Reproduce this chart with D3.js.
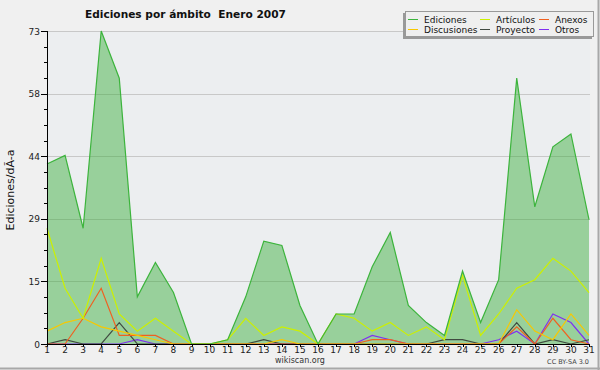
<!DOCTYPE html>
<html>
<head>
<meta charset="utf-8">
<script src="https://cdn.jsdelivr.net/npm/d3@7"></script>
<style>
  body { margin: 0; background: #f0f0f0; }
  svg { display: block; font-family: "DejaVu Sans", sans-serif; }
</style>
</head>
<body>
<svg id="chart" width="600" height="370"></svg>
<script>
// datos de Enero 2007
var dias = [1,2,3,4,5,6,7,8,9,10,11,12,13,14,15,16,17,18,19,20,21,22,23,24,25,26,27,28,29,30,31];
var ediciones   = [42,44,27,73,62,11,19,12,0,0,1,11,24,23,9,0,7,7,18,26,9,5,2,17,5,15,62,32,46,49,29];
var articulos   = [27,13,6,20,7,3,6,3,0,0,1,6,2,4,3,0,7,6,3,5,2,4,1,16,2,7,13,15,20,17,12];
var anexos      = [0,0,6,13,2,2,2,0,0,0,0,0,0,0,0,0,0,0,1,1,0,0,0,0,0,0,4,0,6,1,0];
var discusiones = [3,5,6,4,3,2,1,0,0,0,0,0,0,1,0,0,0,0,0,0,0,0,0,0,0,0,8,3,1,7,2];
var proyecto    = [0,1,0,0,5,0,0,0,0,0,0,0,1,0,0,0,0,0,0,0,0,0,1,1,0,0,5,0,1,0,1];
var otros       = [0,0,0,0,0,1,0,0,0,0,0,0,0,0,0,0,0,0,2,1,0,0,0,0,0,1,3,0,7,5,0];
var yMax = 73;

var svg = d3.select("#chart");
var pLeft = 47, pRight = 590, pTop = 31, pBottom = 344;

var x = d3.scaleLinear().domain([1, 31]).range([pLeft, 589]);
var y = d3.scaleLinear().domain([0, yMax]).range([pBottom, pTop]);

// fondo
svg.append("rect").attr("width", 600).attr("height", 370).attr("fill", "#f0f0f0");
svg.append("line").attr("x1", 598.5).attr("x2", 598.5).attr("y1", 0).attr("y2", 370)
    .attr("stroke", "#a8a8a8").attr("stroke-width", 2);
svg.append("line").attr("x1", 0).attr("x2", 600).attr("y1", 368.5).attr("y2", 368.5)
    .attr("stroke", "#a8a8a8").attr("stroke-width", 2);
svg.append("rect").attr("x", pLeft).attr("y", pTop)
    .attr("width", pRight - pLeft).attr("height", pBottom - pTop)
    .attr("fill", "#eceef0");

var minor = d3.range(0, 21).map(function (i) { return yMax * i / 20; });
var major = minor.filter(function (d, i) { return i % 4 === 0; });

// rejilla
svg.append("g").selectAll("line")
    .data(major.slice(1))
    .enter().append("line")
    .attr("x1", pLeft).attr("x2", pRight)
    .attr("y1", function (d) { return Math.round(y(d)) + 0.5; })
    .attr("y2", function (d) { return Math.round(y(d)) + 0.5; })
    .attr("stroke", "#c8c8c8");

// series
var series = [
    {name: "Ediciones", values: ediciones, color: "#3cb43c"},
    {name: "Artículos", values: articulos, color: "#ccf000"},
    {name: "Anexos", values: anexos, color: "#f06020"},
    {name: "Discusiones", values: discusiones, color: "#f8c800"},
    {name: "Proyecto", values: proyecto, color: "#404a40"},
    {name: "Otros", values: otros, color: "#8030f0"}
];

var area = d3.area()
    .x(function (d, i) { return x(dias[i]); })
    .y0(pBottom)
    .y1(function (d) { return y(d); });

var line = d3.line()
    .x(function (d, i) { return x(dias[i]); })
    .y(function (d) { return y(d); });

svg.append("path").attr("d", area(ediciones))
    .attr("fill", "#33aa33").attr("fill-opacity", 0.45);

var drawOrder = [5, 4, 2, 3, 1, 0];
drawOrder.forEach(function (k) {
    svg.append("path").attr("d", line(series[k].values))
        .attr("fill", "none").attr("stroke", series[k].color).attr("stroke-width", 1.2);
});

// eje y
var yAxis = svg.append("g");
yAxis.append("line").attr("x1", pLeft + 0.5).attr("x2", pLeft + 0.5)
    .attr("y1", pTop).attr("y2", pBottom).attr("stroke", "#000");
yAxis.selectAll("line.t").data(minor).enter().append("line")
    .attr("class", "t")
    .attr("x1", function (d, i) { return i % 4 === 0 ? pLeft - 6 : pLeft - 3; })
    .attr("x2", pLeft)
    .attr("y1", function (d) { return Math.round(y(d)) + 0.5; })
    .attr("y2", function (d) { return Math.round(y(d)) + 0.5; })
    .attr("stroke", "#000");
yAxis.selectAll("text").data(major).enter().append("text")
    .attr("x", pLeft - 7).attr("y", function (d) { return y(d) + 3.5; })
    .attr("text-anchor", "end").attr("font-size", 9).attr("fill", "#222")
    .text(function (d) { return Math.round(d); });

// eje x
var xAxis = svg.append("g");
xAxis.append("line").attr("x1", pLeft).attr("x2", pRight)
    .attr("y1", pBottom + 0.5).attr("y2", pBottom + 0.5).attr("stroke", "#000");
xAxis.selectAll("line.t").data(dias).enter().append("line")
    .attr("class", "t")
    .attr("x1", function (d) { return Math.round(x(d)) + 0.5; })
    .attr("x2", function (d) { return Math.round(x(d)) + 0.5; })
    .attr("y1", pBottom).attr("y2", pBottom + 3).attr("stroke", "#000");
xAxis.selectAll("text").data(dias).enter().append("text")
    .attr("x", function (d) { return x(d); }).attr("y", 353)
    .attr("text-anchor", "middle").attr("font-size", 9).attr("fill", "#222")
    .text(function (d) { return d; });

// textos
svg.append("text").attr("x", 85).attr("y", 18)
    .attr("font-size", 10.6).attr("font-weight", "bold").attr("fill", "#111")
    .attr("xml:space", "preserve")
    .text("Ediciones por ámbito  Enero 2007");

svg.append("text").attr("transform", "translate(14,190) rotate(-90)")
    .attr("text-anchor", "middle").attr("font-size", 11).attr("fill", "#111")
    .text("Ediciones/dÃ-a");

svg.append("text").attr("x", 300).attr("y", 363)
    .attr("text-anchor", "middle").attr("font-size", 8).attr("fill", "#333")
    .text("wikiscan.org");

svg.append("text").attr("x", 589).attr("y", 364)
    .attr("text-anchor", "end").attr("font-size", 6.5).attr("fill", "#444")
    .text("CC BY-SA 3.0");

// leyenda
var lg = svg.append("g");
lg.append("rect").attr("x", 403).attr("y", 13).attr("width", 189).attr("height", 26)
    .attr("fill", "#999");
lg.append("rect").attr("x", 405.5).attr("y", 11.5).attr("width", 188).attr("height", 25)
    .attr("fill", "#efefef").attr("stroke", "#999");

var colX = [408, 480, 539];
var legendOrder = [0, 1, 2, 3, 4, 5];
lg.selectAll("g.item").data(legendOrder).enter().append("g")
    .attr("class", "item")
    .each(function (k, i) {
        var g = d3.select(this);
        var cx = colX[i % 3], cy = i < 3 ? 19.5 : 29.5;
        g.append("line").attr("x1", cx).attr("x2", cx + 10)
            .attr("y1", cy).attr("y2", cy)
            .attr("stroke", series[k].color).attr("stroke-width", 1);
        g.append("text").attr("x", cx + 16).attr("y", cy + 3.5)
            .attr("font-size", 9).attr("fill", "#111")
            .text(series[k].name);
    });
</script>
</body>
</html>
